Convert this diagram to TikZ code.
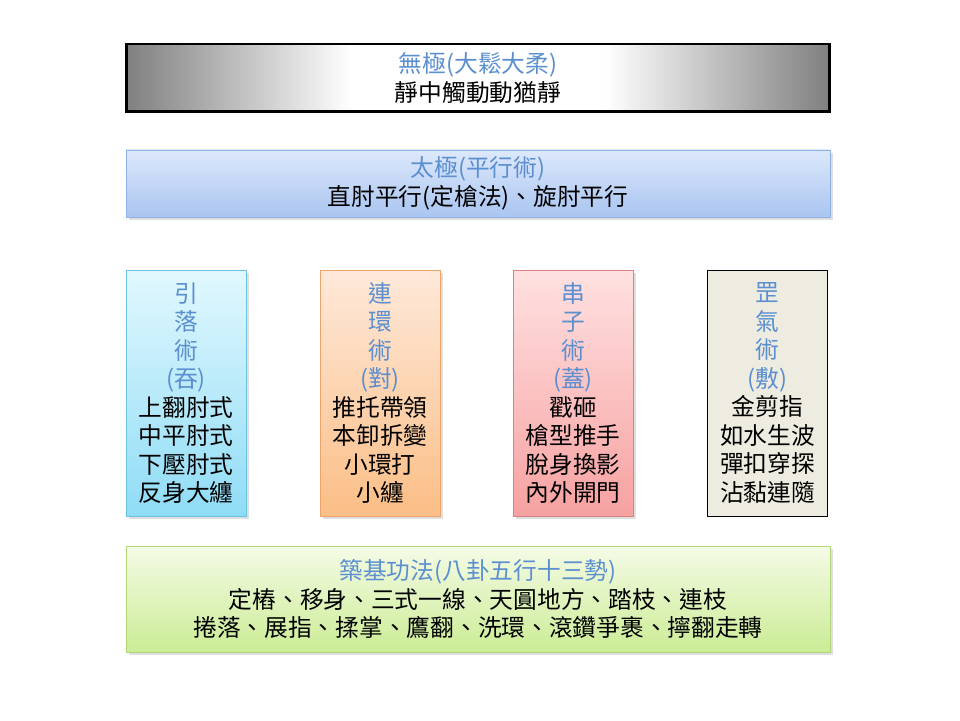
\documentclass[tikz,border=0pt]{standalone}
\usepackage{fontspec}
\newfontfamily\cjk{Noto Sans CJK TC}
\usetikzlibrary{shadows}

\definecolor{titleblue}{RGB}{91,143,208}
\definecolor{tjtop}{RGB}{221,232,251}
\definecolor{tjbot}{RGB}{169,197,241}
\definecolor{tjline}{RGB}{142,176,227}
\definecolor{cyantop}{RGB}{226,248,254}
\definecolor{cyanbot}{RGB}{143,220,246}
\definecolor{cyanline}{RGB}{108,195,224}
\definecolor{orgtop}{RGB}{254,233,218}
\definecolor{orgbot}{RGB}{251,190,134}
\definecolor{orgline}{RGB}{235,164,106}
\definecolor{pinktop}{RGB}{255,225,225}
\definecolor{pinkbot}{RGB}{247,161,161}
\definecolor{pinkline}{RGB}{217,128,128}
\definecolor{beige}{RGB}{238,236,225}
\definecolor{grntop}{RGB}{245,251,230}
\definecolor{grnbot}{RGB}{203,236,149}
\definecolor{grnline}{RGB}{177,214,122}

\pgfdeclarehorizontalshading{wujishade}{100bp}{color(0bp)=(black!50); color(25bp)=(black!50);
  color(41bp)=(white); color(59bp)=(white); color(75bp)=(black!50); color(100bp)=(black!50)}
\newcommand{\ttlc}[1]{\textcolor{titleblue}{#1}}

\begin{document}
\begin{tikzpicture}[x=0.02cm, y=0.02cm,
  txt/.style={font=\cjk\fontsize{13.5}{16.2}\selectfont, align=center, inner sep=0pt},
  shad/.style={drop shadow={opacity=0.25, shadow xshift=1.5pt, shadow yshift=-1.5pt}},
  wide/.style={txt, minimum width=14.08cm},
  col/.style={txt, minimum width=2.4cm, minimum height=4.92cm}]
\useasboundingbox (0,0) rectangle (960,720);
% wuji (grey band)
\node[wide, minimum height=1.36cm, draw=black, line width=1.7pt, shading=wujishade] (wuji) at (478,642)
  {\ttlc{無極(大鬆大柔)}\\靜中觸動動猶靜};
% taiji
\node[wide, shad, minimum height=1.34cm, draw=tjline, top color=tjtop, bottom color=tjbot] (taiji) at (478,536.5)
  {\ttlc{太極(平行術)}\\直肘平行(定槍法)、旋肘平行};
% four methods
\node[col, shad, draw=cyanline, top color=cyantop, bottom color=cyanbot] (yinluo) at (186,327)
  {\ttlc{引}\\\ttlc{落}\\\ttlc{術}\\\ttlc{(吞)}\\上翻肘式\\中平肘式\\下壓肘式\\反身大纏};
\node[col, shad, draw=orgline, top color=orgtop, bottom color=orgbot] (lianhuan) at (380,327)
  {\ttlc{連}\\\ttlc{環}\\\ttlc{術}\\\ttlc{(對)}\\推托帶領\\本卸拆變\\小環打\\小纏};
\node[col, shad, draw=pinkline, top color=pinktop, bottom color=pinkbot] (chuanzi) at (573,327)
  {\ttlc{串}\\\ttlc{子}\\\ttlc{術}\\\ttlc{(蓋)}\\戳砸\\槍型推手\\脫身換影\\內外開門};
\node[col, draw=black, fill=beige] (gangqi) at (767.5,327)
  {\ttlc{罡}\\\ttlc{氣}\\\ttlc{術}\\\ttlc{(敷)}\\金剪指\\如水生波\\彈扣穿探\\沾黏連隨};
% foundation
\node[wide, shad, minimum height=2.12cm, draw=grnline, top color=grntop, bottom color=grnbot] (zhuji) at (478,121)
  {\ttlc{築基功法(八卦五行十三勢)}\\定樁、移身、三式一線、天圓地方、踏枝、連枝\\捲落、展指、揉掌、鷹翻、洗環、滾鑽爭裹、擰翻走轉};
\end{tikzpicture}
\end{document}
